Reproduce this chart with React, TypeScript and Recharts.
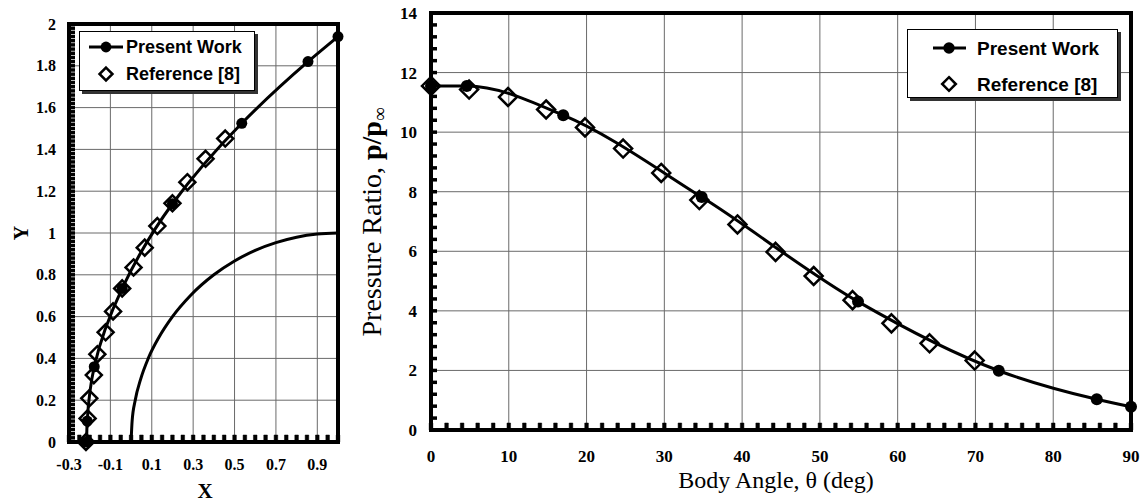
import React from 'react'
import { ScatterChart, Scatter, XAxis, YAxis, CartesianGrid, Legend } from 'recharts'

// ---- left panel: shock shape ----
const shockX = [-0.215, -0.212, -0.178, -0.043, 0.2, 0.535, 0.855, 1.0]
const shockY = [0, 0.1, 0.36, 0.735, 1.14, 1.525, 1.82, 1.94]
const refShockX = [-0.218, -0.21, -0.202, -0.18, -0.163, -0.123, -0.087, -0.043, 0.012, 0.066, 0.127, 0.2, 0.272, 0.36, 0.455]
const refShockY = [0, 0.113, 0.209, 0.32, 0.42, 0.525, 0.625, 0.735, 0.835, 0.93, 1.033, 1.142, 1.243, 1.355, 1.452]
const bodyX = [0, 0.005, 0.02, 0.046, 0.083, 0.134, 0.2, 0.286, 0.4, 0.5, 0.6, 0.7, 0.8, 0.9, 1.0]
const bodyY = [0, 0.1, 0.2, 0.3, 0.4, 0.5, 0.6, 0.7, 0.8, 0.866, 0.917, 0.954, 0.98, 0.995, 1.0]
const shapeXTicks = [-0.3, -0.1, 0.1, 0.3, 0.5, 0.7, 0.9]
const shapeYTicks = [0, 0.2, 0.4, 0.6, 0.8, 1, 1.2, 1.4, 1.6, 1.8, 2]

// ---- right panel: surface pressure ----
const pressX = [0, 4.6, 17.0, 34.8, 54.9, 73.0, 85.6, 90]
const pressY = [11.55, 11.55, 10.57, 7.82, 4.31, 1.99, 1.03, 0.78]
const refPressX = [0, 4.9, 9.9, 14.8, 19.8, 24.7, 29.6, 34.5, 39.4, 44.3, 49.2, 54.2, 59.2, 64.1, 69.9]
const refPressY = [11.55, 11.43, 11.18, 10.76, 10.16, 9.45, 8.63, 7.72, 6.9, 5.98, 5.17, 4.36, 3.58, 2.91, 2.33]
const angleTicks = [0, 10, 20, 30, 40, 50, 60, 70, 80, 90]
const ratioTicks = [0, 2, 4, 6, 8, 10, 12, 14]

const seriesNames = ['Present Work', 'Reference [8]']

const toPoints = (xs: number[], ys: number[]) => xs.map((x, i) => ({ x, y: ys[i] }))
const steps = (a: number, b: number, s: number) =>
  Array.from({ length: Math.round((b - a) / s) + 1 }, (_, i) => +(a + i * s).toFixed(4))
// minor tick marks along the bottom frame, placed through the x scale
const bottomMarks = (a: number, b: number, s: number) => steps(a, b, s).map((x) => ({ x, y: 0 }))

const serif = '"Liberation Serif", "Times New Roman", serif'
const sans = '"Liberation Sans", Arial, sans-serif'
const frame = { stroke: '#000', strokeWidth: 4, strokeLinecap: 'square' as const }
const minorLine = { stroke: '#000', strokeWidth: 3.5 }

const dot = (r: number) => (p: any) => <circle cx={p.cx} cy={p.cy} r={r} fill="#000" />
const diamond = (h: number) => (p: any) => (
  <path
    d={`M${p.cx},${p.cy - h}L${p.cx + h},${p.cy}L${p.cx},${p.cy + h}L${p.cx - h},${p.cy}Z`}
    fill="none"
    stroke="#000"
    strokeWidth={2.5}
  />
)
const tickMark = (p: any) => (
  <path
    d={`M${p.cx - 1.8},${p.cy}L${p.cx - 1.8},${p.cy - 7}L${p.cx + 1.8},${p.cy - 7}L${p.cx + 1.8},${p.cy}Z`}
    fill="#000"
    stroke="#000"
    strokeWidth={0.5}
  />
)
// empty renderer: keeps the ticks (tick={false} drops them) but draws nothing
const nothing = () => <g />

function LegendBox({ w, h, lineX, iconX, textX, rows, size }: any) {
  const hd = size * 0.36
  return (
    <div style={{ width: w, height: h, background: '#fff', border: '1px solid #000', boxShadow: '3px 3px 0 #333', boxSizing: 'border-box' }}>
      <svg width={w - 2} height={h - 2} style={{ display: 'block' }}>
        <line x1={lineX[0]} x2={lineX[1]} y1={rows[0]} y2={rows[0]} stroke="#000" strokeWidth={3} />
        <circle cx={iconX} cy={rows[0]} r={size * 0.3} fill="#000" />
        <path
          d={`M${iconX},${rows[1] - hd}L${iconX + hd},${rows[1]}L${iconX},${rows[1] + hd}L${iconX - hd},${rows[1]}Z`}
          fill="none"
          stroke="#000"
          strokeWidth={2.5}
        />
        {seriesNames.map((n, i) => (
          <text key={n} x={textX} y={rows[i]} dy="0.35em" fontFamily={sans} fontWeight="bold" fontSize={size} fill="#000">
            {n}
          </text>
        ))}
      </svg>
    </div>
  )
}

// axes need a size of at least 1px or recharts skips drawing them
function ShapeChart() {
  const tickFont = { fill: '#000', fontSize: 16, fontWeight: 'bold', fontFamily: serif }
  return (
    <ScatterChart width={345} height={502} margin={{ top: 23, right: 6, bottom: 59, left: 68 }}>
      <CartesianGrid stroke="#6a6a6a" strokeWidth={1} />
      <XAxis
        type="number"
        dataKey="x"
        domain={[-0.3, 1]}
        ticks={shapeXTicks}
        interval={0}
        height={1}
        tickLine={false}
        tickMargin={11}
        axisLine={frame}
        tick={tickFont}
        label={{
          content: () => (
            <text x={205} y={498} textAnchor="middle" fontFamily={serif} fontWeight="bold" fontSize={21} fill="#000">
              X
            </text>
          ),
        }}
      />
      <YAxis
        type="number"
        dataKey="y"
        domain={[0, 2]}
        ticks={shapeYTicks}
        interval={0}
        width={1}
        tickLine={false}
        tickMargin={7}
        axisLine={frame}
        tick={tickFont}
        label={{
          content: () => (
            <text x={28} y={233} transform="rotate(-90 28 233)" textAnchor="middle" fontFamily={serif} fontWeight="bold" fontSize={20} fill="#000">
              Y
            </text>
          ),
        }}
      />
      <YAxis yAxisId="my" type="number" domain={[0, 2]} ticks={steps(0, 2, 0.02)} interval={0} width={1} mirror tick={nothing} axisLine={false} tickLine={minorLine} tickSize={6} allowDataOverflow />
      <XAxis xAxisId="top" orientation="top" type="number" domain={[-0.3, 1]} height={1} tick={false} tickLine={false} axisLine={frame} allowDataOverflow />
      <YAxis yAxisId="right" orientation="right" type="number" domain={[0, 2]} width={1} tick={false} tickLine={false} axisLine={frame} allowDataOverflow />
      <Scatter name="body" data={toPoints(bodyX, bodyY)} line={{ stroke: '#000', strokeWidth: 3 }} lineJointType="monotoneX" shape={nothing} legendType="none" isAnimationActive={false} />
      <Scatter name={seriesNames[1]} data={toPoints(refShockX, refShockY)} shape={diamond(8)} isAnimationActive={false} />
      <Scatter name={seriesNames[0]} data={toPoints(shockX, shockY)} line={{ stroke: '#000', strokeWidth: 3 }} lineJointType="monotoneY" shape={dot(5.5)} isAnimationActive={false} />
      <Scatter name="minorX" data={bottomMarks(-0.3, 1, 0.05)} shape={tickMark} legendType="none" isAnimationActive={false} />
      <Legend
        layout="vertical"
        align="center"
        verticalAlign="middle"
        wrapperStyle={{ left: 79, top: 31, width: 176, height: 60 }}
        content={() => <LegendBox w={176} h={60} lineX={[9, 43]} iconX={26} textX={46} rows={[15, 42]} size={18} />}
      />
    </ScatterChart>
  )
}

function PressureChart() {
  const tickFont = { fill: '#000', fontSize: 17, fontWeight: 'bold', fontFamily: serif }
  return (
    <ScatterChart width={814} height={502} margin={{ top: 12, right: 12, bottom: 71, left: 100 }}>
      <CartesianGrid stroke="#6a6a6a" strokeWidth={1} />
      <XAxis
        type="number"
        dataKey="x"
        domain={[0, 90]}
        ticks={angleTicks}
        interval={0}
        height={1}
        tickLine={false}
        tickMargin={14}
        axisLine={frame}
        tick={tickFont}
        label={{
          content: () => (
            <text x={446} y={488} textAnchor="middle" fontFamily={serif} fontSize={24} fill="#000">
              Body Angle, θ (deg)
            </text>
          ),
        }}
      />
      <YAxis
        type="number"
        dataKey="y"
        domain={[0, 14]}
        ticks={ratioTicks}
        interval={0}
        width={1}
        tickLine={false}
        tickMargin={8}
        axisLine={frame}
        tick={tickFont}
        label={{
          content: () => (
            <text x={51} y={222} transform="rotate(-90 51 222)" textAnchor="middle" fontFamily={serif} fontSize={28} fill="#000">
              <tspan>Pressure Ratio, </tspan>
              <tspan fontWeight="bold">p/p</tspan>
              <tspan fontSize={19} dy={5}>∞</tspan>
            </text>
          ),
        }}
      />
      <YAxis yAxisId="my" type="number" domain={[0, 14]} ticks={steps(0, 14, 0.4)} interval={0} width={1} mirror tick={nothing} axisLine={false} tickLine={minorLine} tickSize={6} allowDataOverflow />
      <XAxis xAxisId="top" orientation="top" type="number" domain={[0, 90]} height={1} tick={false} tickLine={false} axisLine={frame} allowDataOverflow />
      <YAxis yAxisId="right" orientation="right" type="number" domain={[0, 14]} width={1} tick={false} tickLine={false} axisLine={frame} allowDataOverflow />
      <Scatter name={seriesNames[1]} data={toPoints(refPressX, refPressY)} shape={diamond(9)} isAnimationActive={false} />
      <Scatter name={seriesNames[0]} data={toPoints(pressX, pressY)} line={{ stroke: '#000', strokeWidth: 3 }} lineJointType="monotoneX" shape={dot(6)} isAnimationActive={false} />
      <Scatter name="minorX" data={bottomMarks(0, 90, 2)} shape={tickMark} legendType="none" isAnimationActive={false} />
      <Legend
        layout="vertical"
        align="center"
        verticalAlign="middle"
        wrapperStyle={{ left: 577, top: 29, width: 211, height: 69 }}
        content={() => <LegendBox w={211} h={69} lineX={[25, 58]} iconX={41} textX={69} rows={[18, 54]} size={19} />}
      />
    </ScatterChart>
  )
}

export default function App() {
  return (
    <div style={{ position: 'absolute', left: 0, top: 0, width: 1144, height: 502, background: '#fff' }}>
      <div style={{ position: 'absolute', left: 0, top: 0 }}>
        <ShapeChart />
      </div>
      <div style={{ position: 'absolute', left: 330, top: 0 }}>
        <PressureChart />
      </div>
    </div>
  )
}
